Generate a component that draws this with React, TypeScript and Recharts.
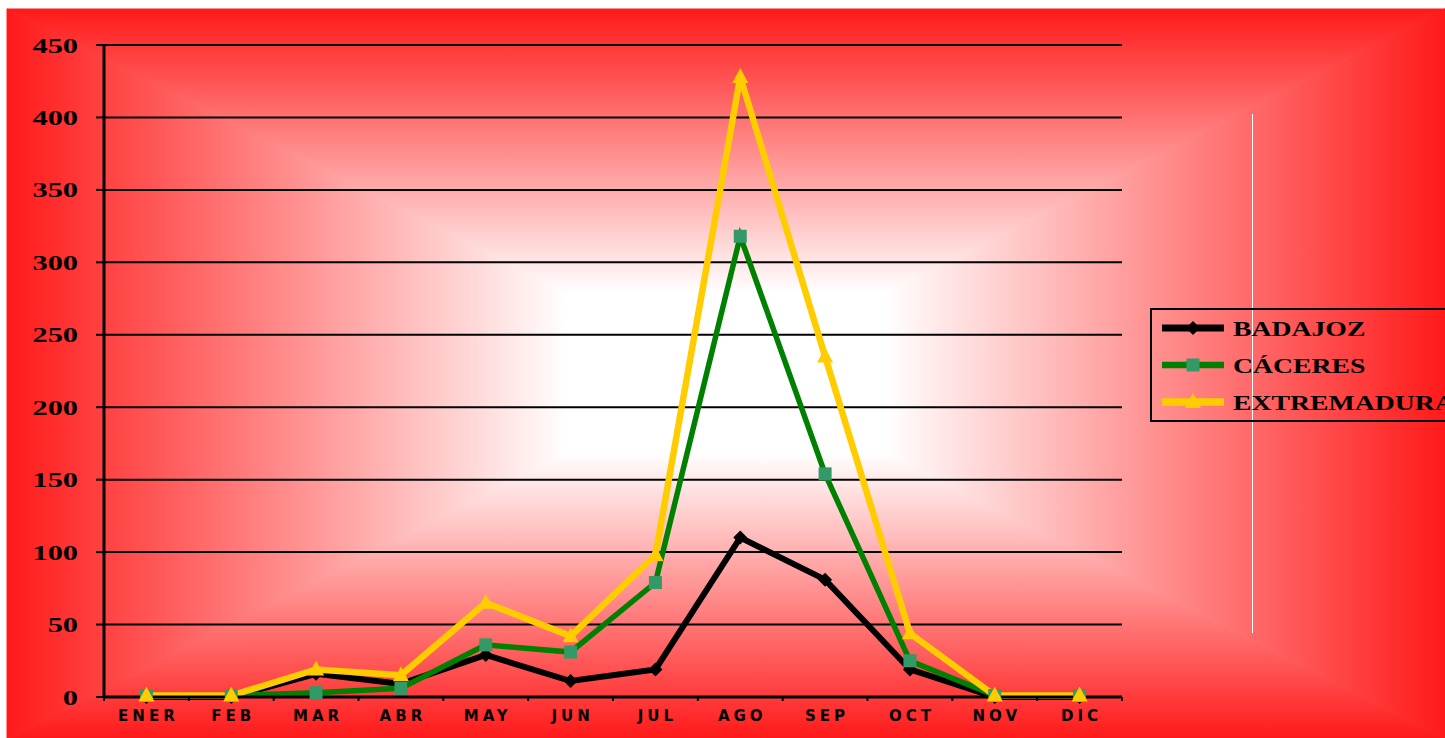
import { LineChart, Line, XAxis, YAxis, CartesianGrid } from "recharts";

const months = ["ENER", "FEB", "MAR", "ABR", "MAY", "JUN", "JUL", "AGO", "SEP", "OCT", "NOV", "DIC"];
const badajoz = [0, 0, 16, 9, 29, 11, 19, 110, 81, 19, 0, 0];
const caceres = [1, 1, 3, 6, 36, 31, 79, 318, 154, 25, 1, 1];
const extremadura = [1, 1, 19, 15, 65, 42, 98, 428, 235, 44, 1, 1];
const yTicks = [0, 50, 100, 150, 200, 250, 300, 350, 400, 450];

const series = [
  { key: "BADAJOZ", values: badajoz, color: "#000000", fill: "#000000", marker: "diamond", width: 6 },
  { key: "CÁCERES", values: caceres, color: "#008000", fill: "#339966", marker: "square", width: 5.5 },
  { key: "EXTREMADURA", values: extremadura, color: "#ffcc00", fill: "#ffcc00", marker: "triangle", width: 6.5 },
];

const data = months.map((m, i) => {
  const row: any = { month: m };
  series.forEach((s) => (row[s.key] = s.values[i]));
  return row;
});

const RED = "#ff1a1a";

function Marker({ cx, cy, kind, fill }: { cx: number; cy: number; kind: string; fill: string }) {
  if (kind === "diamond") {
    return <polygon points={`${cx},${cy - 7} ${cx + 7},${cy} ${cx},${cy + 7} ${cx - 7},${cy}`} fill={fill} />;
  }
  if (kind === "square") {
    return <rect x={cx - 6.5} y={cy - 6.5} width={13} height={13} fill={fill} />;
  }
  return <polygon points={`${cx},${cy - 9} ${cx + 8},${cy + 6} ${cx - 8},${cy + 6}`} fill={fill} />;
}

function Backdrop() {
  const x0 = 7, y0 = 9, x1 = 1445, y1 = 738, cx = 726, cy = 373;
  const stops = (
    <>
      <stop offset="0" stopColor={RED} />
      <stop offset="0.78" stopColor="#ffffff" />
      <stop offset="1" stopColor="#ffffff" />
    </>
  );
  return (
    <svg width={1445} height={738} style={{ position: "absolute", left: 0, top: 0 }}>
      <defs>
        <linearGradient id="gT" gradientUnits="userSpaceOnUse" x1={0} y1={y0} x2={0} y2={cy}>{stops}</linearGradient>
        <linearGradient id="gB" gradientUnits="userSpaceOnUse" x1={0} y1={y1} x2={0} y2={cy}>{stops}</linearGradient>
        <linearGradient id="gL" gradientUnits="userSpaceOnUse" x1={x0} y1={0} x2={cx} y2={0}>{stops}</linearGradient>
        <linearGradient id="gR" gradientUnits="userSpaceOnUse" x1={x1} y1={0} x2={cx} y2={0}>{stops}</linearGradient>
      </defs>
      <polygon points={`${x0},${y0} ${x1},${y0} ${cx},${cy}`} fill="url(#gT)" stroke="url(#gT)" strokeWidth={1} />
      <polygon points={`${x0},${y1} ${x1},${y1} ${cx},${cy}`} fill="url(#gB)" stroke="url(#gB)" strokeWidth={1} />
      <polygon points={`${x0},${y0} ${x0},${y1} ${cx},${cy}`} fill="url(#gL)" stroke="url(#gL)" strokeWidth={1} />
      <polygon points={`${x1},${y0} ${x1},${y1} ${cx},${cy}`} fill="url(#gR)" stroke="url(#gR)" strokeWidth={1} />
      <line x1={1252.5} x2={1252.5} y1={114} y2={633} stroke="#ffffff" strokeWidth={1} />
    </svg>
  );
}

function MonthTick(props: any) {
  const { x, y, payload, index, visibleTicksCount } = props;
  const half = payload && payload.offset ? payload.offset : 42.4;
  return (
    <g>
      <line x1={x - half} x2={x - half} y1={y} y2={y + 4} stroke="#000" strokeWidth={2} />
      {index === visibleTicksCount - 1 && (
        <line x1={x + half} x2={x + half} y1={y} y2={y + 4} stroke="#000" strokeWidth={2} />
      )}
      <text
        x={x + 2}
        y={y + 23.5}
        textAnchor="middle"
        fontFamily="'DejaVu Sans', sans-serif"
        fontWeight="bold"
        fontSize={15}
        letterSpacing={4}
        fill="#000"
      >
        {payload.value}
      </text>
    </g>
  );
}

function ValueTick(props: any) {
  const { x, y, payload } = props;
  return (
    <text
      transform={`translate(${x} ${y}) scale(1.38 1)`}
      x={0}
      y={0}
      dy={7.5}
      textAnchor="end"
      fontFamily="'Liberation Serif', serif"
      fontWeight="bold"
      fontSize={22}
      fill="#000"
    >
      {payload.value}
    </text>
  );
}

function LegendBox() {
  const rows = [20, 57, 94];
  return (
    <svg width={300} height={115} style={{ position: "absolute", left: 1150, top: 308 }}>
      <rect x={1} y={1} width={320} height={112} fill="none" stroke="#000" strokeWidth={2} />
      {series.map((s, i) => (
        <g key={s.key}>
          <line x1={12} x2={74} y1={rows[i]} y2={rows[i]} stroke={s.color} strokeWidth={s.width + 1} />
          <Marker cx={43} cy={rows[i]} kind={s.marker} fill={s.fill} />
          <text
            transform={`translate(83 ${rows[i] + 8}) scale(1.26 1)`}
            fontFamily="'Liberation Serif', serif"
            fontWeight="bold"
            fontSize={22}
            fill="#000"
          >
            {s.key}
          </text>
        </g>
      ))}
    </svg>
  );
}

export default function App() {
  return (
    <div style={{ position: "absolute", left: 0, top: 0, width: 1445, height: 738, overflow: "hidden" }}>
      <Backdrop />
      <div style={{ position: "absolute", left: 0, top: 0 }}>
        <LineChart width={1445} height={738} data={data} margin={{ top: 45, right: 323, left: 0, bottom: 0 }}>
          <CartesianGrid vertical={false} stroke="#000" strokeWidth={2} />
          <XAxis
            dataKey="month"
            scale="band"
            height={41}
            axisLine={{ stroke: "#000", strokeWidth: 3 }}
            tickLine={false}
            tickSize={0}
            tickMargin={0}
            tick={<MonthTick />}
            interval={0}
          />
          <YAxis
            width={104}
            domain={[0, 450]}
            ticks={yTicks}
            axisLine={{ stroke: "#000", strokeWidth: 3 }}
            tickLine={{ stroke: "#000", strokeWidth: 2 }}
            tickSize={8}
            tickMargin={18}
            tick={<ValueTick />}
          />
          <YAxis
            yAxisId="r"
            orientation="right"
            width={0}
            domain={[0, 450]}
            tick={false}
            tickLine={false}
            axisLine={{ stroke: "#000", strokeWidth: 2 }}
          />
          {series.map((s) => (
            <Line
              key={s.key}
              type="linear"
              dataKey={s.key}
              stroke={s.color}
              strokeWidth={s.width}
              isAnimationActive={false}
              dot={(p: any) => <Marker key={p.index} cx={p.cx} cy={p.cy} kind={s.marker} fill={s.fill} />}
              activeDot={false}
            />
          ))}
        </LineChart>
      </div>
      <LegendBox />
    </div>
  );
}
